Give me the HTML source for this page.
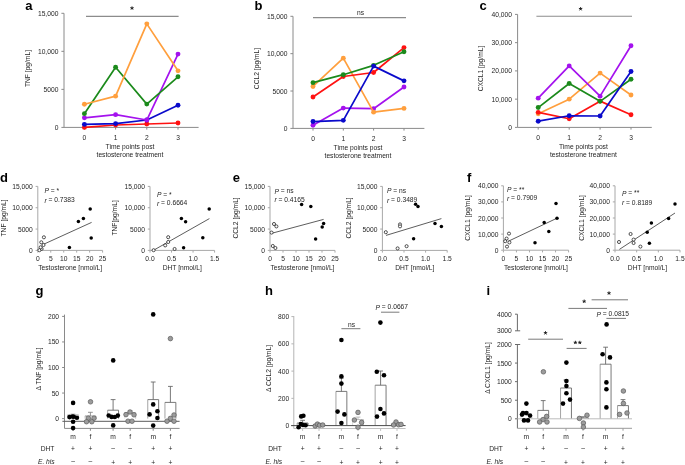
<!DOCTYPE html>
<html><head><meta charset="utf-8"><style>
html,body{margin:0;padding:0;background:#fff;}
body{width:685px;height:465px;overflow:hidden;}
svg{display:block;font-family:"Liberation Sans",sans-serif;will-change:transform;}
</style></head><body>
<svg width="685" height="465" viewBox="0 0 685 465">
<rect width="685" height="465" fill="#fff"/>
<text x="25.20" y="10.30" font-size="13" font-weight="bold" fill="#000">a</text>
<line x1="64.00" y1="13.30" x2="64.00" y2="127.40" stroke="#8a8a8a" stroke-width="1"/>
<line x1="64.00" y1="127.40" x2="198.60" y2="127.40" stroke="#8a8a8a" stroke-width="1"/>
<line x1="61.40" y1="127.40" x2="64.00" y2="127.40" stroke="#8a8a8a" stroke-width="1"/>
<text x="58.40" y="127.40" text-anchor="end" font-size="6.7" fill="#1e1e1e" dominant-baseline="central">0</text>
<line x1="61.40" y1="89.37" x2="64.00" y2="89.37" stroke="#8a8a8a" stroke-width="1"/>
<text x="58.40" y="89.37" text-anchor="end" font-size="6.7" fill="#1e1e1e" dominant-baseline="central">5000</text>
<line x1="61.40" y1="51.33" x2="64.00" y2="51.33" stroke="#8a8a8a" stroke-width="1"/>
<text x="58.40" y="51.33" text-anchor="end" font-size="6.7" fill="#1e1e1e" dominant-baseline="central">10,000</text>
<line x1="61.40" y1="13.30" x2="64.00" y2="13.30" stroke="#8a8a8a" stroke-width="1"/>
<text x="58.40" y="13.30" text-anchor="end" font-size="6.7" fill="#1e1e1e" dominant-baseline="central">15,000</text>
<line x1="84.40" y1="127.40" x2="84.40" y2="129.60" stroke="#8a8a8a" stroke-width="1"/>
<text x="84.40" y="137.70" text-anchor="middle" font-size="6.7" fill="#1e1e1e" dominant-baseline="central">0</text>
<line x1="115.60" y1="127.40" x2="115.60" y2="129.60" stroke="#8a8a8a" stroke-width="1"/>
<text x="115.60" y="137.70" text-anchor="middle" font-size="6.7" fill="#1e1e1e" dominant-baseline="central">1</text>
<line x1="146.80" y1="127.40" x2="146.80" y2="129.60" stroke="#8a8a8a" stroke-width="1"/>
<text x="146.80" y="137.70" text-anchor="middle" font-size="6.7" fill="#1e1e1e" dominant-baseline="central">2</text>
<line x1="178.00" y1="127.40" x2="178.00" y2="129.60" stroke="#8a8a8a" stroke-width="1"/>
<text x="178.00" y="137.70" text-anchor="middle" font-size="6.7" fill="#1e1e1e" dominant-baseline="central">3</text>
<text x="130.00" y="146.40" text-anchor="middle" font-size="6.7" fill="#1e1e1e" dominant-baseline="central">Time points post</text>
<text x="130.00" y="154.40" text-anchor="middle" font-size="6.7" fill="#1e1e1e" dominant-baseline="central">testosterone treatment</text>
<text x="27.40" y="68.50" text-anchor="middle" font-size="6.7" fill="#1e1e1e" dominant-baseline="central" transform="rotate(-90 27.4 68.5)">TNF [pg/mL]</text>
<line x1="86.00" y1="16.40" x2="178.60" y2="16.40" stroke="#8c8c8c" stroke-width="1.1"/>
<path d="M132.00,8.20L132.00,6.80M132.00,8.20L133.33,7.77M132.00,8.20L132.82,9.33M132.00,8.20L131.18,9.33M132.00,8.20L130.67,7.77" stroke="#222" stroke-width="1.0" stroke-linecap="round" fill="none"/>
<polyline points="84.40,127.40 115.60,125.01 146.80,124.02 178.00,123.02" fill="none" stroke="#ff1212" stroke-width="1.7" stroke-linejoin="round"/>
<circle cx="84.40" cy="127.40" r="2.45" fill="#ff1212"/>
<circle cx="115.60" cy="125.01" r="2.45" fill="#ff1212"/>
<circle cx="146.80" cy="124.02" r="2.45" fill="#ff1212"/>
<circle cx="178.00" cy="123.02" r="2.45" fill="#ff1212"/>
<polyline points="84.40,124.41 115.60,123.62 146.80,120.03 178.00,105.30" fill="none" stroke="#0a0acb" stroke-width="1.7" stroke-linejoin="round"/>
<circle cx="84.40" cy="124.41" r="2.45" fill="#0a0acb"/>
<circle cx="115.60" cy="123.62" r="2.45" fill="#0a0acb"/>
<circle cx="146.80" cy="120.03" r="2.45" fill="#0a0acb"/>
<circle cx="178.00" cy="105.30" r="2.45" fill="#0a0acb"/>
<polyline points="84.40,117.84 115.60,114.66 146.80,120.03 178.00,54.12" fill="none" stroke="#a412ee" stroke-width="1.7" stroke-linejoin="round"/>
<circle cx="84.40" cy="117.84" r="2.45" fill="#a412ee"/>
<circle cx="115.60" cy="114.66" r="2.45" fill="#a412ee"/>
<circle cx="146.80" cy="120.03" r="2.45" fill="#a412ee"/>
<circle cx="178.00" cy="54.12" r="2.45" fill="#a412ee"/>
<polyline points="84.40,113.66 115.60,67.26 146.80,104.10 178.00,76.82" fill="none" stroke="#1b8a1b" stroke-width="1.7" stroke-linejoin="round"/>
<circle cx="84.40" cy="113.66" r="2.45" fill="#1b8a1b"/>
<circle cx="115.60" cy="67.26" r="2.45" fill="#1b8a1b"/>
<circle cx="146.80" cy="104.10" r="2.45" fill="#1b8a1b"/>
<circle cx="178.00" cy="76.82" r="2.45" fill="#1b8a1b"/>
<polyline points="84.40,104.30 115.60,96.14 146.80,23.85 178.00,70.84" fill="none" stroke="#ff9f3d" stroke-width="1.7" stroke-linejoin="round"/>
<circle cx="84.40" cy="104.30" r="2.45" fill="#ff9f3d"/>
<circle cx="115.60" cy="96.14" r="2.45" fill="#ff9f3d"/>
<circle cx="146.80" cy="23.85" r="2.45" fill="#ff9f3d"/>
<circle cx="178.00" cy="70.84" r="2.45" fill="#ff9f3d"/>
<text x="254.60" y="10.00" font-size="13" font-weight="bold" fill="#000">b</text>
<line x1="293.00" y1="16.30" x2="293.00" y2="128.40" stroke="#8a8a8a" stroke-width="1"/>
<line x1="293.00" y1="128.40" x2="424.40" y2="128.40" stroke="#8a8a8a" stroke-width="1"/>
<line x1="290.40" y1="128.40" x2="293.00" y2="128.40" stroke="#8a8a8a" stroke-width="1"/>
<text x="287.40" y="128.40" text-anchor="end" font-size="6.7" fill="#1e1e1e" dominant-baseline="central">0</text>
<line x1="290.40" y1="91.03" x2="293.00" y2="91.03" stroke="#8a8a8a" stroke-width="1"/>
<text x="287.40" y="91.03" text-anchor="end" font-size="6.7" fill="#1e1e1e" dominant-baseline="central">5000</text>
<line x1="290.40" y1="53.67" x2="293.00" y2="53.67" stroke="#8a8a8a" stroke-width="1"/>
<text x="287.40" y="53.67" text-anchor="end" font-size="6.7" fill="#1e1e1e" dominant-baseline="central">10,000</text>
<line x1="290.40" y1="16.30" x2="293.00" y2="16.30" stroke="#8a8a8a" stroke-width="1"/>
<text x="287.40" y="16.30" text-anchor="end" font-size="6.7" fill="#1e1e1e" dominant-baseline="central">15,000</text>
<line x1="313.00" y1="128.40" x2="313.00" y2="130.60" stroke="#8a8a8a" stroke-width="1"/>
<text x="313.00" y="138.70" text-anchor="middle" font-size="6.7" fill="#1e1e1e" dominant-baseline="central">0</text>
<line x1="343.30" y1="128.40" x2="343.30" y2="130.60" stroke="#8a8a8a" stroke-width="1"/>
<text x="343.30" y="138.70" text-anchor="middle" font-size="6.7" fill="#1e1e1e" dominant-baseline="central">1</text>
<line x1="373.60" y1="128.40" x2="373.60" y2="130.60" stroke="#8a8a8a" stroke-width="1"/>
<text x="373.60" y="138.70" text-anchor="middle" font-size="6.7" fill="#1e1e1e" dominant-baseline="central">2</text>
<line x1="404.00" y1="128.40" x2="404.00" y2="130.60" stroke="#8a8a8a" stroke-width="1"/>
<text x="404.00" y="138.70" text-anchor="middle" font-size="6.7" fill="#1e1e1e" dominant-baseline="central">3</text>
<text x="358.00" y="147.40" text-anchor="middle" font-size="6.7" fill="#1e1e1e" dominant-baseline="central">Time points post</text>
<text x="358.00" y="155.40" text-anchor="middle" font-size="6.7" fill="#1e1e1e" dominant-baseline="central">testosterone treatment</text>
<text x="256.90" y="68.50" text-anchor="middle" font-size="6.7" fill="#1e1e1e" dominant-baseline="central" transform="rotate(-90 256.9 68.5)">CCL2 [pg/mL]</text>
<line x1="313.00" y1="17.60" x2="406.00" y2="17.60" stroke="#8c8c8c" stroke-width="1.1"/>
<text x="360.50" y="12.40" text-anchor="middle" font-size="6.7" fill="#1e1e1e" dominant-baseline="central">ns</text>
<polyline points="313.00,125.19 343.30,108.11 373.60,108.72 404.00,87.05" fill="none" stroke="#a412ee" stroke-width="1.7" stroke-linejoin="round"/>
<circle cx="313.00" cy="125.19" r="2.45" fill="#a412ee"/>
<circle cx="343.30" cy="108.11" r="2.45" fill="#a412ee"/>
<circle cx="373.60" cy="108.72" r="2.45" fill="#a412ee"/>
<circle cx="404.00" cy="87.05" r="2.45" fill="#a412ee"/>
<polyline points="313.00,86.45 343.30,58.15 373.60,112.13 404.00,108.42" fill="none" stroke="#ff9f3d" stroke-width="1.7" stroke-linejoin="round"/>
<circle cx="313.00" cy="86.45" r="2.45" fill="#ff9f3d"/>
<circle cx="343.30" cy="58.15" r="2.45" fill="#ff9f3d"/>
<circle cx="373.60" cy="112.13" r="2.45" fill="#ff9f3d"/>
<circle cx="404.00" cy="108.42" r="2.45" fill="#ff9f3d"/>
<polyline points="313.00,97.06 343.30,76.48 373.60,72.50 404.00,47.59" fill="none" stroke="#ff1212" stroke-width="1.7" stroke-linejoin="round"/>
<circle cx="313.00" cy="97.06" r="2.45" fill="#ff1212"/>
<circle cx="343.30" cy="76.48" r="2.45" fill="#ff1212"/>
<circle cx="373.60" cy="72.50" r="2.45" fill="#ff1212"/>
<circle cx="404.00" cy="47.59" r="2.45" fill="#ff1212"/>
<polyline points="313.00,82.66 343.30,74.69 373.60,65.33 404.00,51.78" fill="none" stroke="#1b8a1b" stroke-width="1.7" stroke-linejoin="round"/>
<circle cx="313.00" cy="82.66" r="2.45" fill="#1b8a1b"/>
<circle cx="343.30" cy="74.69" r="2.45" fill="#1b8a1b"/>
<circle cx="373.60" cy="65.33" r="2.45" fill="#1b8a1b"/>
<circle cx="404.00" cy="51.78" r="2.45" fill="#1b8a1b"/>
<polyline points="313.00,121.57 343.30,120.37 373.60,66.12 404.00,80.87" fill="none" stroke="#0a0acb" stroke-width="1.7" stroke-linejoin="round"/>
<circle cx="313.00" cy="121.57" r="2.45" fill="#0a0acb"/>
<circle cx="343.30" cy="120.37" r="2.45" fill="#0a0acb"/>
<circle cx="373.60" cy="66.12" r="2.45" fill="#0a0acb"/>
<circle cx="404.00" cy="80.87" r="2.45" fill="#0a0acb"/>
<text x="479.60" y="10.30" font-size="13" font-weight="bold" fill="#000">c</text>
<line x1="517.60" y1="14.40" x2="517.60" y2="127.40" stroke="#8a8a8a" stroke-width="1"/>
<line x1="517.60" y1="127.40" x2="651.80" y2="127.40" stroke="#8a8a8a" stroke-width="1"/>
<line x1="515.00" y1="127.40" x2="517.60" y2="127.40" stroke="#8a8a8a" stroke-width="1"/>
<text x="512.00" y="127.40" text-anchor="end" font-size="6.7" fill="#1e1e1e" dominant-baseline="central">0</text>
<line x1="515.00" y1="99.15" x2="517.60" y2="99.15" stroke="#8a8a8a" stroke-width="1"/>
<text x="512.00" y="99.15" text-anchor="end" font-size="6.7" fill="#1e1e1e" dominant-baseline="central">10,000</text>
<line x1="515.00" y1="70.90" x2="517.60" y2="70.90" stroke="#8a8a8a" stroke-width="1"/>
<text x="512.00" y="70.90" text-anchor="end" font-size="6.7" fill="#1e1e1e" dominant-baseline="central">20,000</text>
<line x1="515.00" y1="42.65" x2="517.60" y2="42.65" stroke="#8a8a8a" stroke-width="1"/>
<text x="512.00" y="42.65" text-anchor="end" font-size="6.7" fill="#1e1e1e" dominant-baseline="central">30,000</text>
<line x1="515.00" y1="14.40" x2="517.60" y2="14.40" stroke="#8a8a8a" stroke-width="1"/>
<text x="512.00" y="14.40" text-anchor="end" font-size="6.7" fill="#1e1e1e" dominant-baseline="central">40,000</text>
<line x1="538.20" y1="127.40" x2="538.20" y2="129.60" stroke="#8a8a8a" stroke-width="1"/>
<text x="538.20" y="137.70" text-anchor="middle" font-size="6.7" fill="#1e1e1e" dominant-baseline="central">0</text>
<line x1="569.20" y1="127.40" x2="569.20" y2="129.60" stroke="#8a8a8a" stroke-width="1"/>
<text x="569.20" y="137.70" text-anchor="middle" font-size="6.7" fill="#1e1e1e" dominant-baseline="central">1</text>
<line x1="600.10" y1="127.40" x2="600.10" y2="129.60" stroke="#8a8a8a" stroke-width="1"/>
<text x="600.10" y="137.70" text-anchor="middle" font-size="6.7" fill="#1e1e1e" dominant-baseline="central">2</text>
<line x1="631.00" y1="127.40" x2="631.00" y2="129.60" stroke="#8a8a8a" stroke-width="1"/>
<text x="631.00" y="137.70" text-anchor="middle" font-size="6.7" fill="#1e1e1e" dominant-baseline="central">3</text>
<text x="583.40" y="146.40" text-anchor="middle" font-size="6.7" fill="#1e1e1e" dominant-baseline="central">Time points post</text>
<text x="583.40" y="154.40" text-anchor="middle" font-size="6.7" fill="#1e1e1e" dominant-baseline="central">testosterone treatment</text>
<text x="480.90" y="68.50" text-anchor="middle" font-size="6.7" fill="#1e1e1e" dominant-baseline="central" transform="rotate(-90 480.9 68.5)">CXCL1 [pg/mL]</text>
<line x1="536.40" y1="16.20" x2="632.00" y2="16.20" stroke="#8c8c8c" stroke-width="1.1"/>
<path d="M580.60,8.90L580.60,7.50M580.60,8.90L581.93,8.47M580.60,8.90L581.42,10.03M580.60,8.90L579.78,10.03M580.60,8.90L579.27,8.47" stroke="#222" stroke-width="1.0" stroke-linecap="round" fill="none"/>
<polyline points="538.20,113.78 569.20,99.15 600.10,73.10 631.00,94.94" fill="none" stroke="#ff9f3d" stroke-width="1.7" stroke-linejoin="round"/>
<circle cx="538.20" cy="113.78" r="2.45" fill="#ff9f3d"/>
<circle cx="569.20" cy="99.15" r="2.45" fill="#ff9f3d"/>
<circle cx="600.10" cy="73.10" r="2.45" fill="#ff9f3d"/>
<circle cx="631.00" cy="94.94" r="2.45" fill="#ff9f3d"/>
<polyline points="538.20,112.37 569.20,118.78 600.10,101.15 631.00,114.78" fill="none" stroke="#ff1212" stroke-width="1.7" stroke-linejoin="round"/>
<circle cx="538.20" cy="112.37" r="2.45" fill="#ff1212"/>
<circle cx="569.20" cy="118.78" r="2.45" fill="#ff1212"/>
<circle cx="600.10" cy="101.15" r="2.45" fill="#ff1212"/>
<circle cx="631.00" cy="114.78" r="2.45" fill="#ff1212"/>
<polyline points="538.20,107.57 569.20,83.48 600.10,101.35 631.00,79.28" fill="none" stroke="#1b8a1b" stroke-width="1.7" stroke-linejoin="round"/>
<circle cx="538.20" cy="107.57" r="2.45" fill="#1b8a1b"/>
<circle cx="569.20" cy="83.48" r="2.45" fill="#1b8a1b"/>
<circle cx="600.10" cy="101.35" r="2.45" fill="#1b8a1b"/>
<circle cx="631.00" cy="79.28" r="2.45" fill="#1b8a1b"/>
<polyline points="538.20,98.15 569.20,65.91 600.10,96.14 631.00,45.74" fill="none" stroke="#a412ee" stroke-width="1.7" stroke-linejoin="round"/>
<circle cx="538.20" cy="98.15" r="2.45" fill="#a412ee"/>
<circle cx="569.20" cy="65.91" r="2.45" fill="#a412ee"/>
<circle cx="600.10" cy="96.14" r="2.45" fill="#a412ee"/>
<circle cx="631.00" cy="45.74" r="2.45" fill="#a412ee"/>
<polyline points="538.20,121.19 569.20,115.78 600.10,115.98 631.00,71.50" fill="none" stroke="#0a0acb" stroke-width="1.7" stroke-linejoin="round"/>
<circle cx="538.20" cy="121.19" r="2.45" fill="#0a0acb"/>
<circle cx="569.20" cy="115.78" r="2.45" fill="#0a0acb"/>
<circle cx="600.10" cy="115.98" r="2.45" fill="#0a0acb"/>
<circle cx="631.00" cy="71.50" r="2.45" fill="#0a0acb"/>
<text x="0.00" y="182.40" font-size="13" font-weight="bold" fill="#000">d</text>
<line x1="37.80" y1="186.40" x2="37.80" y2="250.40" stroke="#a8a8a8" stroke-width="1"/>
<line x1="37.80" y1="250.40" x2="102.60" y2="250.40" stroke="#a8a8a8" stroke-width="1"/>
<line x1="35.60" y1="250.40" x2="37.80" y2="250.40" stroke="#a8a8a8" stroke-width="1"/>
<text x="32.80" y="250.40" text-anchor="end" font-size="6.7" fill="#1e1e1e" dominant-baseline="central">0</text>
<line x1="35.60" y1="229.07" x2="37.80" y2="229.07" stroke="#a8a8a8" stroke-width="1"/>
<text x="32.80" y="229.07" text-anchor="end" font-size="6.7" fill="#1e1e1e" dominant-baseline="central">5000</text>
<line x1="35.60" y1="207.73" x2="37.80" y2="207.73" stroke="#a8a8a8" stroke-width="1"/>
<text x="32.80" y="207.73" text-anchor="end" font-size="6.7" fill="#1e1e1e" dominant-baseline="central">10,000</text>
<line x1="35.60" y1="186.40" x2="37.80" y2="186.40" stroke="#a8a8a8" stroke-width="1"/>
<text x="32.80" y="186.40" text-anchor="end" font-size="6.7" fill="#1e1e1e" dominant-baseline="central">15,000</text>
<line x1="37.80" y1="250.40" x2="37.80" y2="252.60" stroke="#a8a8a8" stroke-width="1"/>
<text x="37.80" y="258.20" text-anchor="middle" font-size="6.7" fill="#1e1e1e" dominant-baseline="central">0</text>
<line x1="50.76" y1="250.40" x2="50.76" y2="252.60" stroke="#a8a8a8" stroke-width="1"/>
<text x="50.76" y="258.20" text-anchor="middle" font-size="6.7" fill="#1e1e1e" dominant-baseline="central">5</text>
<line x1="63.72" y1="250.40" x2="63.72" y2="252.60" stroke="#a8a8a8" stroke-width="1"/>
<text x="63.72" y="258.20" text-anchor="middle" font-size="6.7" fill="#1e1e1e" dominant-baseline="central">10</text>
<line x1="76.68" y1="250.40" x2="76.68" y2="252.60" stroke="#a8a8a8" stroke-width="1"/>
<text x="76.68" y="258.20" text-anchor="middle" font-size="6.7" fill="#1e1e1e" dominant-baseline="central">15</text>
<line x1="89.64" y1="250.40" x2="89.64" y2="252.60" stroke="#a8a8a8" stroke-width="1"/>
<text x="89.64" y="258.20" text-anchor="middle" font-size="6.7" fill="#1e1e1e" dominant-baseline="central">20</text>
<line x1="102.60" y1="250.40" x2="102.60" y2="252.60" stroke="#a8a8a8" stroke-width="1"/>
<text x="102.60" y="258.20" text-anchor="middle" font-size="6.7" fill="#1e1e1e" dominant-baseline="central">25</text>
<text x="70.20" y="267.40" text-anchor="middle" font-size="6.7" fill="#1e1e1e" dominant-baseline="central">Testosterone [nmol/L]</text>
<text x="3.80" y="217.90" text-anchor="middle" font-size="6.7" fill="#1e1e1e" dominant-baseline="central" transform="rotate(-90 3.8 217.9)">TNF [pg/mL]</text>
<text x="44.40" y="190.00" font-size="6.7" fill="#1e1e1e" dominant-baseline="central"><tspan font-style="italic">P</tspan> = *</text>
<text x="44.40" y="199.60" font-size="6.7" fill="#1e1e1e" dominant-baseline="central"><tspan font-style="italic">r</tspan> = 0.7383</text>
<line x1="42.00" y1="245.00" x2="91.60" y2="222.40" stroke="#333" stroke-width="0.8"/>
<circle cx="43.90" cy="237.30" r="1.55" fill="#fff" stroke="#1a1a1a" stroke-width="0.75"/>
<circle cx="41.30" cy="242.30" r="1.55" fill="#fff" stroke="#1a1a1a" stroke-width="0.75"/>
<circle cx="43.50" cy="245.00" r="1.55" fill="#fff" stroke="#1a1a1a" stroke-width="0.75"/>
<circle cx="41.60" cy="248.90" r="1.55" fill="#fff" stroke="#1a1a1a" stroke-width="0.75"/>
<circle cx="39.40" cy="250.20" r="1.55" fill="#fff" stroke="#1a1a1a" stroke-width="0.75"/>
<circle cx="40.60" cy="247.30" r="1.55" fill="#fff" stroke="#1a1a1a" stroke-width="0.75"/>
<circle cx="90.20" cy="209.00" r="1.75" fill="#000"/>
<circle cx="83.40" cy="218.40" r="1.75" fill="#000"/>
<circle cx="78.40" cy="221.60" r="1.75" fill="#000"/>
<circle cx="91.20" cy="238.00" r="1.75" fill="#000"/>
<circle cx="69.40" cy="247.60" r="1.75" fill="#000"/>
<line x1="150.00" y1="186.40" x2="150.00" y2="250.40" stroke="#a8a8a8" stroke-width="1"/>
<line x1="150.00" y1="250.40" x2="214.60" y2="250.40" stroke="#a8a8a8" stroke-width="1"/>
<line x1="147.80" y1="250.40" x2="150.00" y2="250.40" stroke="#a8a8a8" stroke-width="1"/>
<text x="145.00" y="250.40" text-anchor="end" font-size="6.7" fill="#1e1e1e" dominant-baseline="central">0</text>
<line x1="147.80" y1="229.07" x2="150.00" y2="229.07" stroke="#a8a8a8" stroke-width="1"/>
<text x="145.00" y="229.07" text-anchor="end" font-size="6.7" fill="#1e1e1e" dominant-baseline="central">5000</text>
<line x1="147.80" y1="207.73" x2="150.00" y2="207.73" stroke="#a8a8a8" stroke-width="1"/>
<text x="145.00" y="207.73" text-anchor="end" font-size="6.7" fill="#1e1e1e" dominant-baseline="central">10,000</text>
<line x1="147.80" y1="186.40" x2="150.00" y2="186.40" stroke="#a8a8a8" stroke-width="1"/>
<text x="145.00" y="186.40" text-anchor="end" font-size="6.7" fill="#1e1e1e" dominant-baseline="central">15,000</text>
<line x1="150.00" y1="250.40" x2="150.00" y2="252.60" stroke="#a8a8a8" stroke-width="1"/>
<text x="150.00" y="258.20" text-anchor="middle" font-size="6.7" fill="#1e1e1e" dominant-baseline="central">0.0</text>
<line x1="171.53" y1="250.40" x2="171.53" y2="252.60" stroke="#a8a8a8" stroke-width="1"/>
<text x="171.53" y="258.20" text-anchor="middle" font-size="6.7" fill="#1e1e1e" dominant-baseline="central">0.5</text>
<line x1="193.06" y1="250.40" x2="193.06" y2="252.60" stroke="#a8a8a8" stroke-width="1"/>
<text x="193.06" y="258.20" text-anchor="middle" font-size="6.7" fill="#1e1e1e" dominant-baseline="central">1.0</text>
<line x1="214.59" y1="250.40" x2="214.59" y2="252.60" stroke="#a8a8a8" stroke-width="1"/>
<text x="214.59" y="258.20" text-anchor="middle" font-size="6.7" fill="#1e1e1e" dominant-baseline="central">1.5</text>
<text x="182.30" y="267.40" text-anchor="middle" font-size="6.7" fill="#1e1e1e" dominant-baseline="central">DHT [nmol/L]</text>
<text x="115.00" y="217.90" text-anchor="middle" font-size="6.7" fill="#1e1e1e" dominant-baseline="central" transform="rotate(-90 115.0 217.9)">TNF[pg/mL]</text>
<text x="157.00" y="194.00" font-size="6.7" fill="#1e1e1e" dominant-baseline="central"><tspan font-style="italic">P</tspan> = *</text>
<text x="157.00" y="202.60" font-size="6.7" fill="#1e1e1e" dominant-baseline="central"><tspan font-style="italic">r</tspan> = 0.6664</text>
<line x1="154.00" y1="250.00" x2="209.40" y2="218.60" stroke="#333" stroke-width="0.8"/>
<circle cx="153.60" cy="250.20" r="1.55" fill="#fff" stroke="#1a1a1a" stroke-width="0.75"/>
<circle cx="168.20" cy="237.20" r="1.55" fill="#fff" stroke="#1a1a1a" stroke-width="0.75"/>
<circle cx="168.20" cy="242.00" r="1.55" fill="#fff" stroke="#1a1a1a" stroke-width="0.75"/>
<circle cx="165.20" cy="245.40" r="1.55" fill="#fff" stroke="#1a1a1a" stroke-width="0.75"/>
<circle cx="174.60" cy="249.00" r="1.55" fill="#fff" stroke="#1a1a1a" stroke-width="0.75"/>
<circle cx="209.20" cy="209.00" r="1.75" fill="#000"/>
<circle cx="181.40" cy="218.40" r="1.75" fill="#000"/>
<circle cx="185.60" cy="221.80" r="1.75" fill="#000"/>
<circle cx="202.80" cy="237.80" r="1.75" fill="#000"/>
<circle cx="183.60" cy="247.80" r="1.75" fill="#000"/>
<text x="232.80" y="182.40" font-size="13" font-weight="bold" fill="#000">e</text>
<line x1="270.00" y1="186.40" x2="270.00" y2="250.40" stroke="#a8a8a8" stroke-width="1"/>
<line x1="270.00" y1="250.40" x2="335.00" y2="250.40" stroke="#a8a8a8" stroke-width="1"/>
<line x1="267.80" y1="250.40" x2="270.00" y2="250.40" stroke="#a8a8a8" stroke-width="1"/>
<text x="265.00" y="250.40" text-anchor="end" font-size="6.7" fill="#1e1e1e" dominant-baseline="central">0</text>
<line x1="267.80" y1="229.07" x2="270.00" y2="229.07" stroke="#a8a8a8" stroke-width="1"/>
<text x="265.00" y="229.07" text-anchor="end" font-size="6.7" fill="#1e1e1e" dominant-baseline="central">5000</text>
<line x1="267.80" y1="207.73" x2="270.00" y2="207.73" stroke="#a8a8a8" stroke-width="1"/>
<text x="265.00" y="207.73" text-anchor="end" font-size="6.7" fill="#1e1e1e" dominant-baseline="central">10,000</text>
<line x1="267.80" y1="186.40" x2="270.00" y2="186.40" stroke="#a8a8a8" stroke-width="1"/>
<text x="265.00" y="186.40" text-anchor="end" font-size="6.7" fill="#1e1e1e" dominant-baseline="central">15,000</text>
<line x1="270.00" y1="250.40" x2="270.00" y2="252.60" stroke="#a8a8a8" stroke-width="1"/>
<text x="270.00" y="258.20" text-anchor="middle" font-size="6.7" fill="#1e1e1e" dominant-baseline="central">0</text>
<line x1="283.00" y1="250.40" x2="283.00" y2="252.60" stroke="#a8a8a8" stroke-width="1"/>
<text x="283.00" y="258.20" text-anchor="middle" font-size="6.7" fill="#1e1e1e" dominant-baseline="central">5</text>
<line x1="296.00" y1="250.40" x2="296.00" y2="252.60" stroke="#a8a8a8" stroke-width="1"/>
<text x="296.00" y="258.20" text-anchor="middle" font-size="6.7" fill="#1e1e1e" dominant-baseline="central">10</text>
<line x1="309.00" y1="250.40" x2="309.00" y2="252.60" stroke="#a8a8a8" stroke-width="1"/>
<text x="309.00" y="258.20" text-anchor="middle" font-size="6.7" fill="#1e1e1e" dominant-baseline="central">15</text>
<line x1="322.00" y1="250.40" x2="322.00" y2="252.60" stroke="#a8a8a8" stroke-width="1"/>
<text x="322.00" y="258.20" text-anchor="middle" font-size="6.7" fill="#1e1e1e" dominant-baseline="central">20</text>
<line x1="335.00" y1="250.40" x2="335.00" y2="252.60" stroke="#a8a8a8" stroke-width="1"/>
<text x="335.00" y="258.20" text-anchor="middle" font-size="6.7" fill="#1e1e1e" dominant-baseline="central">25</text>
<text x="302.50" y="267.40" text-anchor="middle" font-size="6.7" fill="#1e1e1e" dominant-baseline="central">Testosterone [nmol/L]</text>
<text x="235.80" y="217.90" text-anchor="middle" font-size="6.7" fill="#1e1e1e" dominant-baseline="central" transform="rotate(-90 235.8 217.9)">CCL2 [pg/mL]</text>
<text x="274.40" y="190.60" font-size="6.7" fill="#1e1e1e" dominant-baseline="central"><tspan font-style="italic">P</tspan> = ns</text>
<text x="274.40" y="199.40" font-size="6.7" fill="#1e1e1e" dominant-baseline="central"><tspan font-style="italic">r</tspan> = 0.4165</text>
<line x1="270.60" y1="233.60" x2="323.60" y2="219.40" stroke="#333" stroke-width="0.8"/>
<circle cx="271.60" cy="232.60" r="1.55" fill="#fff" stroke="#1a1a1a" stroke-width="0.75"/>
<circle cx="274.00" cy="224.00" r="1.55" fill="#fff" stroke="#1a1a1a" stroke-width="0.75"/>
<circle cx="276.40" cy="226.40" r="1.55" fill="#fff" stroke="#1a1a1a" stroke-width="0.75"/>
<circle cx="272.80" cy="246.00" r="1.55" fill="#fff" stroke="#1a1a1a" stroke-width="0.75"/>
<circle cx="275.40" cy="248.00" r="1.55" fill="#fff" stroke="#1a1a1a" stroke-width="0.75"/>
<circle cx="301.60" cy="204.40" r="1.75" fill="#000"/>
<circle cx="310.80" cy="206.60" r="1.75" fill="#000"/>
<circle cx="323.60" cy="223.60" r="1.75" fill="#000"/>
<circle cx="322.20" cy="227.00" r="1.75" fill="#000"/>
<circle cx="315.60" cy="239.00" r="1.75" fill="#000"/>
<line x1="382.40" y1="186.40" x2="382.40" y2="250.40" stroke="#a8a8a8" stroke-width="1"/>
<line x1="382.40" y1="250.40" x2="447.20" y2="250.40" stroke="#a8a8a8" stroke-width="1"/>
<line x1="380.20" y1="250.40" x2="382.40" y2="250.40" stroke="#a8a8a8" stroke-width="1"/>
<text x="377.40" y="250.40" text-anchor="end" font-size="6.7" fill="#1e1e1e" dominant-baseline="central">0</text>
<line x1="380.20" y1="229.07" x2="382.40" y2="229.07" stroke="#a8a8a8" stroke-width="1"/>
<text x="377.40" y="229.07" text-anchor="end" font-size="6.7" fill="#1e1e1e" dominant-baseline="central">5000</text>
<line x1="380.20" y1="207.73" x2="382.40" y2="207.73" stroke="#a8a8a8" stroke-width="1"/>
<text x="377.40" y="207.73" text-anchor="end" font-size="6.7" fill="#1e1e1e" dominant-baseline="central">10,000</text>
<line x1="380.20" y1="186.40" x2="382.40" y2="186.40" stroke="#a8a8a8" stroke-width="1"/>
<text x="377.40" y="186.40" text-anchor="end" font-size="6.7" fill="#1e1e1e" dominant-baseline="central">15,000</text>
<line x1="382.40" y1="250.40" x2="382.40" y2="252.60" stroke="#a8a8a8" stroke-width="1"/>
<text x="382.40" y="258.20" text-anchor="middle" font-size="6.7" fill="#1e1e1e" dominant-baseline="central">0.0</text>
<line x1="404.00" y1="250.40" x2="404.00" y2="252.60" stroke="#a8a8a8" stroke-width="1"/>
<text x="404.00" y="258.20" text-anchor="middle" font-size="6.7" fill="#1e1e1e" dominant-baseline="central">0.5</text>
<line x1="425.60" y1="250.40" x2="425.60" y2="252.60" stroke="#a8a8a8" stroke-width="1"/>
<text x="425.60" y="258.20" text-anchor="middle" font-size="6.7" fill="#1e1e1e" dominant-baseline="central">1.0</text>
<line x1="447.20" y1="250.40" x2="447.20" y2="252.60" stroke="#a8a8a8" stroke-width="1"/>
<text x="447.20" y="258.20" text-anchor="middle" font-size="6.7" fill="#1e1e1e" dominant-baseline="central">1.5</text>
<text x="414.80" y="267.40" text-anchor="middle" font-size="6.7" fill="#1e1e1e" dominant-baseline="central">DHT [nmol/L]</text>
<text x="348.40" y="217.90" text-anchor="middle" font-size="6.7" fill="#1e1e1e" dominant-baseline="central" transform="rotate(-90 348.4 217.9)">CCL2 [pg/mL]</text>
<text x="387.00" y="190.40" font-size="6.7" fill="#1e1e1e" dominant-baseline="central"><tspan font-style="italic">P</tspan> = ns</text>
<text x="387.00" y="199.60" font-size="6.7" fill="#1e1e1e" dominant-baseline="central"><tspan font-style="italic">r</tspan> = 0.3489</text>
<line x1="386.00" y1="235.40" x2="441.40" y2="218.60" stroke="#333" stroke-width="0.8"/>
<circle cx="385.80" cy="232.20" r="1.55" fill="#fff" stroke="#1a1a1a" stroke-width="0.75"/>
<circle cx="400.00" cy="224.40" r="1.55" fill="#fff" stroke="#1a1a1a" stroke-width="0.75"/>
<circle cx="400.00" cy="226.40" r="1.55" fill="#fff" stroke="#1a1a1a" stroke-width="0.75"/>
<circle cx="397.60" cy="248.40" r="1.55" fill="#fff" stroke="#1a1a1a" stroke-width="0.75"/>
<circle cx="406.60" cy="246.20" r="1.55" fill="#fff" stroke="#1a1a1a" stroke-width="0.75"/>
<circle cx="415.60" cy="204.20" r="1.75" fill="#000"/>
<circle cx="418.00" cy="206.60" r="1.75" fill="#000"/>
<circle cx="435.00" cy="223.40" r="1.75" fill="#000"/>
<circle cx="441.40" cy="226.60" r="1.75" fill="#000"/>
<circle cx="413.60" cy="238.80" r="1.75" fill="#000"/>
<text x="467.00" y="182.40" font-size="13" font-weight="bold" fill="#000">f</text>
<line x1="503.40" y1="185.80" x2="503.40" y2="250.20" stroke="#a8a8a8" stroke-width="1"/>
<line x1="503.40" y1="250.20" x2="568.60" y2="250.20" stroke="#a8a8a8" stroke-width="1"/>
<line x1="501.20" y1="250.20" x2="503.40" y2="250.20" stroke="#a8a8a8" stroke-width="1"/>
<text x="498.40" y="250.20" text-anchor="end" font-size="6.7" fill="#1e1e1e" dominant-baseline="central">0</text>
<line x1="501.20" y1="234.10" x2="503.40" y2="234.10" stroke="#a8a8a8" stroke-width="1"/>
<text x="498.40" y="234.10" text-anchor="end" font-size="6.7" fill="#1e1e1e" dominant-baseline="central">10,000</text>
<line x1="501.20" y1="218.00" x2="503.40" y2="218.00" stroke="#a8a8a8" stroke-width="1"/>
<text x="498.40" y="218.00" text-anchor="end" font-size="6.7" fill="#1e1e1e" dominant-baseline="central">20,000</text>
<line x1="501.20" y1="201.90" x2="503.40" y2="201.90" stroke="#a8a8a8" stroke-width="1"/>
<text x="498.40" y="201.90" text-anchor="end" font-size="6.7" fill="#1e1e1e" dominant-baseline="central">30,000</text>
<line x1="501.20" y1="185.80" x2="503.40" y2="185.80" stroke="#a8a8a8" stroke-width="1"/>
<text x="498.40" y="185.80" text-anchor="end" font-size="6.7" fill="#1e1e1e" dominant-baseline="central">40,000</text>
<line x1="503.40" y1="250.20" x2="503.40" y2="252.40" stroke="#a8a8a8" stroke-width="1"/>
<text x="503.40" y="258.00" text-anchor="middle" font-size="6.7" fill="#1e1e1e" dominant-baseline="central">0</text>
<line x1="516.44" y1="250.20" x2="516.44" y2="252.40" stroke="#a8a8a8" stroke-width="1"/>
<text x="516.44" y="258.00" text-anchor="middle" font-size="6.7" fill="#1e1e1e" dominant-baseline="central">5</text>
<line x1="529.48" y1="250.20" x2="529.48" y2="252.40" stroke="#a8a8a8" stroke-width="1"/>
<text x="529.48" y="258.00" text-anchor="middle" font-size="6.7" fill="#1e1e1e" dominant-baseline="central">10</text>
<line x1="542.52" y1="250.20" x2="542.52" y2="252.40" stroke="#a8a8a8" stroke-width="1"/>
<text x="542.52" y="258.00" text-anchor="middle" font-size="6.7" fill="#1e1e1e" dominant-baseline="central">15</text>
<line x1="555.56" y1="250.20" x2="555.56" y2="252.40" stroke="#a8a8a8" stroke-width="1"/>
<text x="555.56" y="258.00" text-anchor="middle" font-size="6.7" fill="#1e1e1e" dominant-baseline="central">20</text>
<line x1="568.60" y1="250.20" x2="568.60" y2="252.40" stroke="#a8a8a8" stroke-width="1"/>
<text x="568.60" y="258.00" text-anchor="middle" font-size="6.7" fill="#1e1e1e" dominant-baseline="central">25</text>
<text x="536.00" y="267.20" text-anchor="middle" font-size="6.7" fill="#1e1e1e" dominant-baseline="central">Testosterone [nmol/L]</text>
<text x="468.00" y="217.90" text-anchor="middle" font-size="6.7" fill="#1e1e1e" dominant-baseline="central" transform="rotate(-90 468.0 217.9)">CXCL1 [pg/mL]</text>
<text x="507.00" y="189.00" font-size="6.7" fill="#1e1e1e" dominant-baseline="central"><tspan font-style="italic">P</tspan> = **</text>
<text x="507.00" y="197.60" font-size="6.7" fill="#1e1e1e" dominant-baseline="central"><tspan font-style="italic">r</tspan> = 0.7909</text>
<line x1="508.00" y1="241.40" x2="557.40" y2="218.00" stroke="#333" stroke-width="0.8"/>
<circle cx="509.00" cy="233.60" r="1.55" fill="#fff" stroke="#1a1a1a" stroke-width="0.75"/>
<circle cx="506.60" cy="238.60" r="1.55" fill="#fff" stroke="#1a1a1a" stroke-width="0.75"/>
<circle cx="505.20" cy="241.20" r="1.55" fill="#fff" stroke="#1a1a1a" stroke-width="0.75"/>
<circle cx="509.40" cy="242.40" r="1.55" fill="#fff" stroke="#1a1a1a" stroke-width="0.75"/>
<circle cx="507.00" cy="246.60" r="1.55" fill="#fff" stroke="#1a1a1a" stroke-width="0.75"/>
<circle cx="556.00" cy="203.60" r="1.75" fill="#000"/>
<circle cx="557.00" cy="218.20" r="1.75" fill="#000"/>
<circle cx="544.20" cy="222.60" r="1.75" fill="#000"/>
<circle cx="548.80" cy="231.60" r="1.75" fill="#000"/>
<circle cx="535.00" cy="242.80" r="1.75" fill="#000"/>
<line x1="615.00" y1="185.80" x2="615.00" y2="250.20" stroke="#a8a8a8" stroke-width="1"/>
<line x1="615.00" y1="250.20" x2="680.00" y2="250.20" stroke="#a8a8a8" stroke-width="1"/>
<line x1="612.80" y1="250.20" x2="615.00" y2="250.20" stroke="#a8a8a8" stroke-width="1"/>
<text x="610.00" y="250.20" text-anchor="end" font-size="6.7" fill="#1e1e1e" dominant-baseline="central">0</text>
<line x1="612.80" y1="234.10" x2="615.00" y2="234.10" stroke="#a8a8a8" stroke-width="1"/>
<text x="610.00" y="234.10" text-anchor="end" font-size="6.7" fill="#1e1e1e" dominant-baseline="central">10,000</text>
<line x1="612.80" y1="218.00" x2="615.00" y2="218.00" stroke="#a8a8a8" stroke-width="1"/>
<text x="610.00" y="218.00" text-anchor="end" font-size="6.7" fill="#1e1e1e" dominant-baseline="central">20,000</text>
<line x1="612.80" y1="201.90" x2="615.00" y2="201.90" stroke="#a8a8a8" stroke-width="1"/>
<text x="610.00" y="201.90" text-anchor="end" font-size="6.7" fill="#1e1e1e" dominant-baseline="central">30,000</text>
<line x1="612.80" y1="185.80" x2="615.00" y2="185.80" stroke="#a8a8a8" stroke-width="1"/>
<text x="610.00" y="185.80" text-anchor="end" font-size="6.7" fill="#1e1e1e" dominant-baseline="central">40,000</text>
<line x1="615.00" y1="250.20" x2="615.00" y2="252.40" stroke="#a8a8a8" stroke-width="1"/>
<text x="615.00" y="258.00" text-anchor="middle" font-size="6.7" fill="#1e1e1e" dominant-baseline="central">0.0</text>
<line x1="636.67" y1="250.20" x2="636.67" y2="252.40" stroke="#a8a8a8" stroke-width="1"/>
<text x="636.67" y="258.00" text-anchor="middle" font-size="6.7" fill="#1e1e1e" dominant-baseline="central">0.5</text>
<line x1="658.34" y1="250.20" x2="658.34" y2="252.40" stroke="#a8a8a8" stroke-width="1"/>
<text x="658.34" y="258.00" text-anchor="middle" font-size="6.7" fill="#1e1e1e" dominant-baseline="central">1.0</text>
<line x1="680.01" y1="250.20" x2="680.01" y2="252.40" stroke="#a8a8a8" stroke-width="1"/>
<text x="680.01" y="258.00" text-anchor="middle" font-size="6.7" fill="#1e1e1e" dominant-baseline="central">1.5</text>
<text x="647.50" y="267.20" text-anchor="middle" font-size="6.7" fill="#1e1e1e" dominant-baseline="central">DHT [nmol/L]</text>
<text x="581.60" y="217.90" text-anchor="middle" font-size="6.7" fill="#1e1e1e" dominant-baseline="central" transform="rotate(-90 581.6 217.9)">CXCL1 [pg/mL]</text>
<text x="622.00" y="192.60" font-size="6.7" fill="#1e1e1e" dominant-baseline="central"><tspan font-style="italic">P</tspan> = **</text>
<text x="622.00" y="202.00" font-size="6.7" fill="#1e1e1e" dominant-baseline="central"><tspan font-style="italic">r</tspan> = 0.8189</text>
<line x1="619.40" y1="249.40" x2="675.00" y2="213.00" stroke="#333" stroke-width="0.8"/>
<circle cx="619.00" cy="242.00" r="1.55" fill="#fff" stroke="#1a1a1a" stroke-width="0.75"/>
<circle cx="630.60" cy="234.00" r="1.55" fill="#fff" stroke="#1a1a1a" stroke-width="0.75"/>
<circle cx="633.60" cy="239.60" r="1.55" fill="#fff" stroke="#1a1a1a" stroke-width="0.75"/>
<circle cx="633.60" cy="243.00" r="1.55" fill="#fff" stroke="#1a1a1a" stroke-width="0.75"/>
<circle cx="640.40" cy="246.60" r="1.55" fill="#fff" stroke="#1a1a1a" stroke-width="0.75"/>
<circle cx="675.00" cy="204.00" r="1.75" fill="#000"/>
<circle cx="668.60" cy="218.60" r="1.75" fill="#000"/>
<circle cx="651.40" cy="223.00" r="1.75" fill="#000"/>
<circle cx="647.20" cy="232.20" r="1.75" fill="#000"/>
<circle cx="649.40" cy="243.20" r="1.75" fill="#000"/>
<text x="35.60" y="294.60" font-size="13" font-weight="bold" fill="#000">g</text>
<line x1="64.50" y1="314.60" x2="64.50" y2="428.40" stroke="#8a8a8a" stroke-width="1"/>
<line x1="64.50" y1="428.40" x2="179.60" y2="428.40" stroke="#8a8a8a" stroke-width="1"/>
<line x1="62.10" y1="418.60" x2="64.50" y2="418.60" stroke="#8a8a8a" stroke-width="1"/>
<text x="59.10" y="418.60" text-anchor="end" font-size="6.7" fill="#1e1e1e" dominant-baseline="central">0</text>
<line x1="62.10" y1="393.05" x2="64.50" y2="393.05" stroke="#8a8a8a" stroke-width="1"/>
<text x="59.10" y="393.05" text-anchor="end" font-size="6.7" fill="#1e1e1e" dominant-baseline="central">50</text>
<line x1="62.10" y1="367.50" x2="64.50" y2="367.50" stroke="#8a8a8a" stroke-width="1"/>
<text x="59.10" y="367.50" text-anchor="end" font-size="6.7" fill="#1e1e1e" dominant-baseline="central">100</text>
<line x1="62.10" y1="341.95" x2="64.50" y2="341.95" stroke="#8a8a8a" stroke-width="1"/>
<text x="59.10" y="341.95" text-anchor="end" font-size="6.7" fill="#1e1e1e" dominant-baseline="central">150</text>
<line x1="62.10" y1="316.40" x2="64.50" y2="316.40" stroke="#8a8a8a" stroke-width="1"/>
<text x="59.10" y="316.40" text-anchor="end" font-size="6.7" fill="#1e1e1e" dominant-baseline="central">200</text>
<line x1="73.00" y1="428.40" x2="73.00" y2="430.80" stroke="#8a8a8a" stroke-width="1"/>
<line x1="90.40" y1="428.40" x2="90.40" y2="430.80" stroke="#8a8a8a" stroke-width="1"/>
<line x1="113.10" y1="428.40" x2="113.10" y2="430.80" stroke="#8a8a8a" stroke-width="1"/>
<line x1="130.20" y1="428.40" x2="130.20" y2="430.80" stroke="#8a8a8a" stroke-width="1"/>
<line x1="153.20" y1="428.40" x2="153.20" y2="430.80" stroke="#8a8a8a" stroke-width="1"/>
<line x1="170.40" y1="428.40" x2="170.40" y2="430.80" stroke="#8a8a8a" stroke-width="1"/>
<text x="73.00" y="436.30" text-anchor="middle" font-size="6.7" fill="#1e1e1e" dominant-baseline="central">m</text>
<text x="73.00" y="448.90" text-anchor="middle" font-size="6.7" fill="#1e1e1e" dominant-baseline="central">+</text>
<text x="73.00" y="460.40" text-anchor="middle" font-size="6.7" fill="#1e1e1e" dominant-baseline="central">–</text>
<text x="90.40" y="436.30" text-anchor="middle" font-size="6.7" fill="#1e1e1e" dominant-baseline="central">f</text>
<text x="90.40" y="448.90" text-anchor="middle" font-size="6.7" fill="#1e1e1e" dominant-baseline="central">+</text>
<text x="90.40" y="460.40" text-anchor="middle" font-size="6.7" fill="#1e1e1e" dominant-baseline="central">–</text>
<text x="113.10" y="436.30" text-anchor="middle" font-size="6.7" fill="#1e1e1e" dominant-baseline="central">m</text>
<text x="113.10" y="447.20" text-anchor="middle" font-size="6.7" fill="#1e1e1e" dominant-baseline="central">–</text>
<text x="113.10" y="462.00" text-anchor="middle" font-size="6.7" fill="#1e1e1e" dominant-baseline="central">+</text>
<text x="130.20" y="436.30" text-anchor="middle" font-size="6.7" fill="#1e1e1e" dominant-baseline="central">f</text>
<text x="130.20" y="447.20" text-anchor="middle" font-size="6.7" fill="#1e1e1e" dominant-baseline="central">–</text>
<text x="130.20" y="462.00" text-anchor="middle" font-size="6.7" fill="#1e1e1e" dominant-baseline="central">+</text>
<text x="153.20" y="436.30" text-anchor="middle" font-size="6.7" fill="#1e1e1e" dominant-baseline="central">m</text>
<text x="153.20" y="448.90" text-anchor="middle" font-size="6.7" fill="#1e1e1e" dominant-baseline="central">+</text>
<text x="153.20" y="462.00" text-anchor="middle" font-size="6.7" fill="#1e1e1e" dominant-baseline="central">+</text>
<text x="170.40" y="436.30" text-anchor="middle" font-size="6.7" fill="#1e1e1e" dominant-baseline="central">f</text>
<text x="170.40" y="448.90" text-anchor="middle" font-size="6.7" fill="#1e1e1e" dominant-baseline="central">+</text>
<text x="170.40" y="462.00" text-anchor="middle" font-size="6.7" fill="#1e1e1e" dominant-baseline="central">+</text>
<text x="47.50" y="448.40" text-anchor="middle" font-size="6.7" fill="#1e1e1e" dominant-baseline="central">DHT</text>
<text x="46.30" y="461.7" text-anchor="middle" font-size="6.7" fill="#1e1e1e" dominant-baseline="central" font-style="italic">E. his</text>
<text x="38.60" y="369.00" text-anchor="middle" font-size="6.7" fill="#1e1e1e" dominant-baseline="central" transform="rotate(-90 38.6 369.0)">Δ TNF [pg/mL]</text>
<rect x="67.55" y="414.70" width="10.90" height="3.90" fill="#fff" stroke="none"/>
<path d="M67.55,418.60V414.70" stroke="#ddd" stroke-width="0.9" fill="none"/>
<path d="M67.55,414.70H78.45V418.60" stroke="#bbb" stroke-width="0.9" fill="none"/>
<line x1="73.00" y1="414.00" x2="73.00" y2="414.70" stroke="#bbb" stroke-width="0.9"/>
<line x1="70.60" y1="414.00" x2="75.40" y2="414.00" stroke="#bbb" stroke-width="0.9"/>
<rect x="84.95" y="416.00" width="10.90" height="2.60" fill="#fff" stroke="none"/>
<path d="M84.95,418.60V416.00" stroke="#ccc" stroke-width="0.9" fill="none"/>
<path d="M84.95,416.00H95.85V418.60" stroke="#888" stroke-width="0.9" fill="none"/>
<line x1="90.40" y1="412.30" x2="90.40" y2="416.00" stroke="#888" stroke-width="0.9"/>
<line x1="88.00" y1="412.30" x2="92.80" y2="412.30" stroke="#888" stroke-width="0.9"/>
<rect x="107.65" y="410.20" width="10.90" height="8.40" fill="#fff" stroke="none"/>
<path d="M107.65,418.60V410.20" stroke="#9a9a9a" stroke-width="0.9" fill="none"/>
<path d="M107.65,410.20H118.55V418.60" stroke="#6a6a6a" stroke-width="0.9" fill="none"/>
<line x1="113.10" y1="399.60" x2="113.10" y2="410.20" stroke="#6a6a6a" stroke-width="0.9"/>
<line x1="110.70" y1="399.60" x2="115.50" y2="399.60" stroke="#6a6a6a" stroke-width="0.9"/>
<rect x="124.75" y="412.50" width="10.90" height="6.10" fill="#fff" stroke="none"/>
<path d="M124.75,418.60V412.50" stroke="#ddd" stroke-width="0.9" fill="none"/>
<path d="M124.75,412.50H135.65V418.60" stroke="#bbb" stroke-width="0.9" fill="none"/>
<line x1="130.20" y1="410.50" x2="130.20" y2="412.50" stroke="#bbb" stroke-width="0.9"/>
<line x1="127.80" y1="410.50" x2="132.60" y2="410.50" stroke="#bbb" stroke-width="0.9"/>
<rect x="147.75" y="399.60" width="10.90" height="19.00" fill="#fff" stroke="none"/>
<path d="M147.75,418.60V399.60" stroke="#9a9a9a" stroke-width="0.9" fill="none"/>
<path d="M147.75,399.60H158.65V418.60" stroke="#6a6a6a" stroke-width="0.9" fill="none"/>
<line x1="153.20" y1="382.00" x2="153.20" y2="399.60" stroke="#6a6a6a" stroke-width="0.9"/>
<line x1="150.80" y1="382.00" x2="155.60" y2="382.00" stroke="#6a6a6a" stroke-width="0.9"/>
<rect x="164.95" y="402.40" width="10.90" height="16.20" fill="#fff" stroke="none"/>
<path d="M164.95,418.60V402.40" stroke="#9a9a9a" stroke-width="0.9" fill="none"/>
<path d="M164.95,402.40H175.85V418.60" stroke="#6a6a6a" stroke-width="0.9" fill="none"/>
<line x1="170.40" y1="386.40" x2="170.40" y2="402.40" stroke="#6a6a6a" stroke-width="0.9"/>
<line x1="168.00" y1="386.40" x2="172.80" y2="386.40" stroke="#6a6a6a" stroke-width="0.9"/>
<line x1="62.40" y1="421.30" x2="179.60" y2="421.30" stroke="#5a5a5a" stroke-width="1.0"/>
<circle cx="90.50" cy="401.80" r="2.3" fill="#9c9c9c" stroke="#5a5a5a" stroke-width="0.7"/>
<circle cx="88.30" cy="418.20" r="2.3" fill="#9c9c9c" stroke="#5a5a5a" stroke-width="0.7"/>
<circle cx="94.00" cy="418.20" r="2.3" fill="#9c9c9c" stroke="#5a5a5a" stroke-width="0.7"/>
<circle cx="86.50" cy="421.70" r="2.3" fill="#9c9c9c" stroke="#5a5a5a" stroke-width="0.7"/>
<circle cx="91.80" cy="421.70" r="2.3" fill="#9c9c9c" stroke="#5a5a5a" stroke-width="0.7"/>
<circle cx="130.00" cy="412.00" r="2.3" fill="#9c9c9c" stroke="#5a5a5a" stroke-width="0.7"/>
<circle cx="126.00" cy="414.60" r="2.3" fill="#9c9c9c" stroke="#5a5a5a" stroke-width="0.7"/>
<circle cx="134.00" cy="414.80" r="2.3" fill="#9c9c9c" stroke="#5a5a5a" stroke-width="0.7"/>
<circle cx="128.00" cy="421.20" r="2.3" fill="#9c9c9c" stroke="#5a5a5a" stroke-width="0.7"/>
<circle cx="132.00" cy="421.20" r="2.3" fill="#9c9c9c" stroke="#5a5a5a" stroke-width="0.7"/>
<circle cx="170.40" cy="338.60" r="2.3" fill="#9c9c9c" stroke="#5a5a5a" stroke-width="0.7"/>
<circle cx="174.00" cy="415.00" r="2.3" fill="#9c9c9c" stroke="#5a5a5a" stroke-width="0.7"/>
<circle cx="170.40" cy="418.40" r="2.3" fill="#9c9c9c" stroke="#5a5a5a" stroke-width="0.7"/>
<circle cx="167.00" cy="421.20" r="2.3" fill="#9c9c9c" stroke="#5a5a5a" stroke-width="0.7"/>
<circle cx="174.00" cy="421.20" r="2.3" fill="#9c9c9c" stroke="#5a5a5a" stroke-width="0.7"/>
<circle cx="73.10" cy="402.90" r="2.3" fill="#000"/>
<circle cx="69.50" cy="417.10" r="2.3" fill="#000"/>
<circle cx="72.50" cy="416.50" r="2.3" fill="#000"/>
<circle cx="73.80" cy="416.70" r="2.3" fill="#000"/>
<circle cx="76.90" cy="417.80" r="2.3" fill="#000"/>
<circle cx="73.10" cy="421.70" r="2.3" fill="#000"/>
<circle cx="73.10" cy="428.10" r="2.3" fill="#000"/>
<circle cx="113.20" cy="360.40" r="2.3" fill="#000"/>
<circle cx="108.70" cy="415.50" r="2.3" fill="#000"/>
<circle cx="111.60" cy="416.90" r="2.3" fill="#000"/>
<circle cx="114.80" cy="417.00" r="2.3" fill="#000"/>
<circle cx="117.80" cy="415.60" r="2.3" fill="#000"/>
<circle cx="113.20" cy="425.40" r="2.3" fill="#000"/>
<circle cx="153.20" cy="314.40" r="2.3" fill="#000"/>
<circle cx="153.20" cy="404.40" r="2.3" fill="#000"/>
<circle cx="157.40" cy="411.20" r="2.3" fill="#000"/>
<circle cx="149.60" cy="414.40" r="2.3" fill="#000"/>
<circle cx="157.40" cy="418.00" r="2.3" fill="#000"/>
<circle cx="153.20" cy="425.60" r="2.3" fill="#000"/>
<text x="265.00" y="295.00" font-size="13" font-weight="bold" fill="#000">h</text>
<line x1="293.80" y1="316.00" x2="293.80" y2="428.50" stroke="#b4b4b4" stroke-width="1"/>
<line x1="293.80" y1="428.50" x2="405.60" y2="428.50" stroke="#c0c0c0" stroke-width="1"/>
<line x1="291.40" y1="425.60" x2="293.80" y2="425.60" stroke="#b4b4b4" stroke-width="1"/>
<text x="289.20" y="425.60" text-anchor="end" font-size="6.7" fill="#1e1e1e" dominant-baseline="central">0</text>
<line x1="291.40" y1="398.35" x2="293.80" y2="398.35" stroke="#b4b4b4" stroke-width="1"/>
<text x="289.20" y="398.35" text-anchor="end" font-size="6.7" fill="#1e1e1e" dominant-baseline="central">200</text>
<line x1="291.40" y1="371.10" x2="293.80" y2="371.10" stroke="#b4b4b4" stroke-width="1"/>
<text x="289.20" y="371.10" text-anchor="end" font-size="6.7" fill="#1e1e1e" dominant-baseline="central">400</text>
<line x1="291.40" y1="343.85" x2="293.80" y2="343.85" stroke="#b4b4b4" stroke-width="1"/>
<text x="289.20" y="343.85" text-anchor="end" font-size="6.7" fill="#1e1e1e" dominant-baseline="central">600</text>
<line x1="291.40" y1="316.60" x2="293.80" y2="316.60" stroke="#b4b4b4" stroke-width="1"/>
<text x="289.20" y="316.60" text-anchor="end" font-size="6.7" fill="#1e1e1e" dominant-baseline="central">800</text>
<line x1="302.60" y1="428.50" x2="302.60" y2="430.90" stroke="#c0c0c0" stroke-width="1"/>
<line x1="319.00" y1="428.50" x2="319.00" y2="430.90" stroke="#c0c0c0" stroke-width="1"/>
<line x1="341.40" y1="428.50" x2="341.40" y2="430.90" stroke="#c0c0c0" stroke-width="1"/>
<line x1="358.00" y1="428.50" x2="358.00" y2="430.90" stroke="#c0c0c0" stroke-width="1"/>
<line x1="380.60" y1="428.50" x2="380.60" y2="430.90" stroke="#c0c0c0" stroke-width="1"/>
<line x1="397.00" y1="428.50" x2="397.00" y2="430.90" stroke="#c0c0c0" stroke-width="1"/>
<text x="302.60" y="436.30" text-anchor="middle" font-size="6.7" fill="#1e1e1e" dominant-baseline="central">m</text>
<text x="302.60" y="448.90" text-anchor="middle" font-size="6.7" fill="#1e1e1e" dominant-baseline="central">+</text>
<text x="302.60" y="460.40" text-anchor="middle" font-size="6.7" fill="#1e1e1e" dominant-baseline="central">–</text>
<text x="319.00" y="436.30" text-anchor="middle" font-size="6.7" fill="#1e1e1e" dominant-baseline="central">f</text>
<text x="319.00" y="448.90" text-anchor="middle" font-size="6.7" fill="#1e1e1e" dominant-baseline="central">+</text>
<text x="319.00" y="460.40" text-anchor="middle" font-size="6.7" fill="#1e1e1e" dominant-baseline="central">–</text>
<text x="341.40" y="436.30" text-anchor="middle" font-size="6.7" fill="#1e1e1e" dominant-baseline="central">m</text>
<text x="341.40" y="447.20" text-anchor="middle" font-size="6.7" fill="#1e1e1e" dominant-baseline="central">–</text>
<text x="341.40" y="462.00" text-anchor="middle" font-size="6.7" fill="#1e1e1e" dominant-baseline="central">+</text>
<text x="358.00" y="436.30" text-anchor="middle" font-size="6.7" fill="#1e1e1e" dominant-baseline="central">f</text>
<text x="358.00" y="447.20" text-anchor="middle" font-size="6.7" fill="#1e1e1e" dominant-baseline="central">–</text>
<text x="358.00" y="462.00" text-anchor="middle" font-size="6.7" fill="#1e1e1e" dominant-baseline="central">+</text>
<text x="380.60" y="436.30" text-anchor="middle" font-size="6.7" fill="#1e1e1e" dominant-baseline="central">m</text>
<text x="380.60" y="448.90" text-anchor="middle" font-size="6.7" fill="#1e1e1e" dominant-baseline="central">+</text>
<text x="380.60" y="462.00" text-anchor="middle" font-size="6.7" fill="#1e1e1e" dominant-baseline="central">+</text>
<text x="397.00" y="436.30" text-anchor="middle" font-size="6.7" fill="#1e1e1e" dominant-baseline="central">f</text>
<text x="397.00" y="448.90" text-anchor="middle" font-size="6.7" fill="#1e1e1e" dominant-baseline="central">+</text>
<text x="397.00" y="462.00" text-anchor="middle" font-size="6.7" fill="#1e1e1e" dominant-baseline="central">+</text>
<text x="275.00" y="448.40" text-anchor="middle" font-size="6.7" fill="#1e1e1e" dominant-baseline="central">DHT</text>
<text x="273.80" y="461.7" text-anchor="middle" font-size="6.7" fill="#1e1e1e" dominant-baseline="central" font-style="italic">E. his</text>
<text x="269.00" y="368.40" text-anchor="middle" font-size="6.7" fill="#1e1e1e" dominant-baseline="central" transform="rotate(-90 269.0 368.4)">Δ CCL2 [pg/mL]</text>
<rect x="297.15" y="423.00" width="10.90" height="2.60" fill="#fff" stroke="none"/>
<path d="M297.15,425.60V423.00" stroke="#9a9a9a" stroke-width="0.9" fill="none"/>
<path d="M297.15,423.00H308.05V425.60" stroke="#6a6a6a" stroke-width="0.9" fill="none"/>
<line x1="302.60" y1="420.30" x2="302.60" y2="423.00" stroke="#6a6a6a" stroke-width="0.9"/>
<line x1="300.20" y1="420.30" x2="305.00" y2="420.30" stroke="#6a6a6a" stroke-width="0.9"/>
<rect x="313.55" y="424.50" width="10.90" height="1.10" fill="#fff" stroke="none"/>
<path d="M313.55,425.60V424.50" stroke="#9a9a9a" stroke-width="0.9" fill="none"/>
<path d="M313.55,424.50H324.45V425.60" stroke="#6a6a6a" stroke-width="0.9" fill="none"/>
<line x1="319.00" y1="423.50" x2="319.00" y2="424.50" stroke="#6a6a6a" stroke-width="0.9"/>
<line x1="316.60" y1="423.50" x2="321.40" y2="423.50" stroke="#6a6a6a" stroke-width="0.9"/>
<rect x="335.95" y="391.40" width="10.90" height="34.20" fill="#fff" stroke="none"/>
<path d="M335.95,425.60V391.40" stroke="#9a9a9a" stroke-width="0.9" fill="none"/>
<path d="M335.95,391.40H346.85V425.60" stroke="#6a6a6a" stroke-width="0.9" fill="none"/>
<line x1="341.40" y1="378.00" x2="341.40" y2="391.40" stroke="#6a6a6a" stroke-width="0.9"/>
<line x1="339.00" y1="378.00" x2="343.80" y2="378.00" stroke="#6a6a6a" stroke-width="0.9"/>
<rect x="352.55" y="419.50" width="10.90" height="6.10" fill="#fff" stroke="none"/>
<path d="M352.55,425.60V419.50" stroke="#d8d8d8" stroke-width="0.9" fill="none"/>
<path d="M352.55,419.50H363.45V425.60" stroke="#b8b8b8" stroke-width="0.9" fill="none"/>
<line x1="358.00" y1="417.10" x2="358.00" y2="419.50" stroke="#b8b8b8" stroke-width="0.9"/>
<line x1="355.60" y1="417.10" x2="360.40" y2="417.10" stroke="#b8b8b8" stroke-width="0.9"/>
<rect x="375.15" y="385.20" width="10.90" height="40.40" fill="#fff" stroke="none"/>
<path d="M375.15,425.60V385.20" stroke="#9a9a9a" stroke-width="0.9" fill="none"/>
<path d="M375.15,385.20H386.05V425.60" stroke="#6a6a6a" stroke-width="0.9" fill="none"/>
<line x1="380.60" y1="371.00" x2="380.60" y2="385.20" stroke="#6a6a6a" stroke-width="0.9"/>
<line x1="378.20" y1="371.00" x2="383.00" y2="371.00" stroke="#6a6a6a" stroke-width="0.9"/>
<rect x="391.55" y="424.00" width="10.90" height="1.60" fill="#fff" stroke="none"/>
<path d="M391.55,425.60V424.00" stroke="#9a9a9a" stroke-width="0.9" fill="none"/>
<path d="M391.55,424.00H402.45V425.60" stroke="#6a6a6a" stroke-width="0.9" fill="none"/>
<line x1="397.00" y1="423.00" x2="397.00" y2="424.00" stroke="#6a6a6a" stroke-width="0.9"/>
<line x1="394.60" y1="423.00" x2="399.40" y2="423.00" stroke="#6a6a6a" stroke-width="0.9"/>
<line x1="291.10" y1="425.60" x2="405.60" y2="425.60" stroke="#4a4a4a" stroke-width="1.0"/>
<circle cx="315.20" cy="426.00" r="2.3" fill="#9c9c9c" stroke="#5a5a5a" stroke-width="0.7"/>
<circle cx="317.40" cy="424.10" r="2.3" fill="#9c9c9c" stroke="#5a5a5a" stroke-width="0.7"/>
<circle cx="319.60" cy="425.30" r="2.3" fill="#9c9c9c" stroke="#5a5a5a" stroke-width="0.7"/>
<circle cx="322.70" cy="425.00" r="2.3" fill="#9c9c9c" stroke="#5a5a5a" stroke-width="0.7"/>
<circle cx="358.00" cy="412.40" r="2.3" fill="#9c9c9c" stroke="#5a5a5a" stroke-width="0.7"/>
<circle cx="354.40" cy="420.00" r="2.3" fill="#9c9c9c" stroke="#5a5a5a" stroke-width="0.7"/>
<circle cx="361.60" cy="422.40" r="2.3" fill="#9c9c9c" stroke="#5a5a5a" stroke-width="0.7"/>
<circle cx="358.00" cy="427.20" r="2.3" fill="#9c9c9c" stroke="#5a5a5a" stroke-width="0.7"/>
<circle cx="396.00" cy="422.00" r="2.3" fill="#9c9c9c" stroke="#5a5a5a" stroke-width="0.7"/>
<circle cx="393.60" cy="425.00" r="2.3" fill="#9c9c9c" stroke="#5a5a5a" stroke-width="0.7"/>
<circle cx="398.60" cy="424.80" r="2.3" fill="#9c9c9c" stroke="#5a5a5a" stroke-width="0.7"/>
<circle cx="401.00" cy="424.40" r="2.3" fill="#9c9c9c" stroke="#5a5a5a" stroke-width="0.7"/>
<circle cx="301.20" cy="416.40" r="2.3" fill="#000"/>
<circle cx="303.40" cy="415.70" r="2.3" fill="#000"/>
<circle cx="300.80" cy="424.10" r="2.3" fill="#000"/>
<circle cx="303.00" cy="425.00" r="2.3" fill="#000"/>
<circle cx="305.60" cy="425.30" r="2.3" fill="#000"/>
<circle cx="298.60" cy="427.30" r="2.3" fill="#000"/>
<circle cx="341.40" cy="340.00" r="2.3" fill="#000"/>
<circle cx="341.40" cy="376.40" r="2.3" fill="#000"/>
<circle cx="341.40" cy="383.60" r="2.3" fill="#000"/>
<circle cx="337.60" cy="411.60" r="2.3" fill="#000"/>
<circle cx="344.40" cy="414.40" r="2.3" fill="#000"/>
<circle cx="341.40" cy="423.00" r="2.3" fill="#000"/>
<circle cx="380.40" cy="322.60" r="2.3" fill="#000"/>
<circle cx="376.80" cy="371.80" r="2.3" fill="#000"/>
<circle cx="384.00" cy="375.20" r="2.3" fill="#000"/>
<circle cx="380.40" cy="409.00" r="2.3" fill="#000"/>
<circle cx="384.00" cy="413.40" r="2.3" fill="#000"/>
<circle cx="377.00" cy="416.60" r="2.3" fill="#000"/>
<line x1="341.40" y1="328.70" x2="360.40" y2="328.70" stroke="#7a7a7a" stroke-width="1.0"/>
<text x="351.50" y="324.30" text-anchor="middle" font-size="6.7" fill="#1e1e1e" dominant-baseline="central">ns</text>
<line x1="381.00" y1="312.20" x2="399.40" y2="312.20" stroke="#7a7a7a" stroke-width="1.0"/>
<text x="391.8" y="306.6" text-anchor="middle" font-size="6.7" fill="#1e1e1e" dominant-baseline="central"><tspan font-style="italic">P</tspan> = 0.0667</text>
<text x="486.40" y="295.00" font-size="13" font-weight="bold" fill="#000">i</text>
<line x1="517.40" y1="344.40" x2="517.40" y2="428.30" stroke="#6a6a6a" stroke-width="1"/>
<line x1="517.40" y1="428.30" x2="632.00" y2="428.30" stroke="#9a9a9a" stroke-width="1"/>
<line x1="515.00" y1="418.80" x2="517.40" y2="418.80" stroke="#6a6a6a" stroke-width="1"/>
<text x="511.80" y="418.80" text-anchor="end" font-size="6.7" fill="#1e1e1e" dominant-baseline="central">0</text>
<line x1="515.00" y1="400.23" x2="517.40" y2="400.23" stroke="#6a6a6a" stroke-width="1"/>
<text x="511.80" y="400.23" text-anchor="end" font-size="6.7" fill="#1e1e1e" dominant-baseline="central">500</text>
<line x1="515.00" y1="381.65" x2="517.40" y2="381.65" stroke="#6a6a6a" stroke-width="1"/>
<text x="511.80" y="381.65" text-anchor="end" font-size="6.7" fill="#1e1e1e" dominant-baseline="central">1000</text>
<line x1="515.00" y1="363.07" x2="517.40" y2="363.07" stroke="#6a6a6a" stroke-width="1"/>
<text x="511.80" y="363.07" text-anchor="end" font-size="6.7" fill="#1e1e1e" dominant-baseline="central">1500</text>
<line x1="515.00" y1="344.50" x2="520.20" y2="344.50" stroke="#6a6a6a" stroke-width="1"/>
<text x="511.80" y="344.50" text-anchor="end" font-size="6.7" fill="#1e1e1e" dominant-baseline="central">2000</text>
<line x1="515.00" y1="314.20" x2="517.40" y2="314.20" stroke="#6a6a6a" stroke-width="1"/>
<text x="511.80" y="314.20" text-anchor="end" font-size="6.7" fill="#1e1e1e" dominant-baseline="central">4000</text>
<line x1="515.00" y1="330.80" x2="520.20" y2="330.80" stroke="#6a6a6a" stroke-width="1"/>
<text x="511.80" y="330.80" text-anchor="end" font-size="6.7" fill="#1e1e1e" dominant-baseline="central">3000</text>
<line x1="526.40" y1="428.30" x2="526.40" y2="430.70" stroke="#9a9a9a" stroke-width="1"/>
<line x1="543.20" y1="428.30" x2="543.20" y2="430.70" stroke="#9a9a9a" stroke-width="1"/>
<line x1="566.00" y1="428.30" x2="566.00" y2="430.70" stroke="#9a9a9a" stroke-width="1"/>
<line x1="583.00" y1="428.30" x2="583.00" y2="430.70" stroke="#9a9a9a" stroke-width="1"/>
<line x1="605.60" y1="428.30" x2="605.60" y2="430.70" stroke="#9a9a9a" stroke-width="1"/>
<line x1="623.00" y1="428.30" x2="623.00" y2="430.70" stroke="#9a9a9a" stroke-width="1"/>
<text x="526.40" y="436.30" text-anchor="middle" font-size="6.7" fill="#1e1e1e" dominant-baseline="central">m</text>
<text x="526.40" y="448.90" text-anchor="middle" font-size="6.7" fill="#1e1e1e" dominant-baseline="central">+</text>
<text x="526.40" y="460.40" text-anchor="middle" font-size="6.7" fill="#1e1e1e" dominant-baseline="central">–</text>
<text x="543.20" y="436.30" text-anchor="middle" font-size="6.7" fill="#1e1e1e" dominant-baseline="central">f</text>
<text x="543.20" y="448.90" text-anchor="middle" font-size="6.7" fill="#1e1e1e" dominant-baseline="central">+</text>
<text x="543.20" y="460.40" text-anchor="middle" font-size="6.7" fill="#1e1e1e" dominant-baseline="central">–</text>
<text x="566.00" y="436.30" text-anchor="middle" font-size="6.7" fill="#1e1e1e" dominant-baseline="central">m</text>
<text x="566.00" y="447.20" text-anchor="middle" font-size="6.7" fill="#1e1e1e" dominant-baseline="central">–</text>
<text x="566.00" y="462.00" text-anchor="middle" font-size="6.7" fill="#1e1e1e" dominant-baseline="central">+</text>
<text x="583.00" y="436.30" text-anchor="middle" font-size="6.7" fill="#1e1e1e" dominant-baseline="central">f</text>
<text x="583.00" y="447.20" text-anchor="middle" font-size="6.7" fill="#1e1e1e" dominant-baseline="central">–</text>
<text x="583.00" y="462.00" text-anchor="middle" font-size="6.7" fill="#1e1e1e" dominant-baseline="central">+</text>
<text x="605.60" y="436.30" text-anchor="middle" font-size="6.7" fill="#1e1e1e" dominant-baseline="central">m</text>
<text x="605.60" y="448.90" text-anchor="middle" font-size="6.7" fill="#1e1e1e" dominant-baseline="central">+</text>
<text x="605.60" y="462.00" text-anchor="middle" font-size="6.7" fill="#1e1e1e" dominant-baseline="central">+</text>
<text x="623.00" y="436.30" text-anchor="middle" font-size="6.7" fill="#1e1e1e" dominant-baseline="central">f</text>
<text x="623.00" y="448.90" text-anchor="middle" font-size="6.7" fill="#1e1e1e" dominant-baseline="central">+</text>
<text x="623.00" y="462.00" text-anchor="middle" font-size="6.7" fill="#1e1e1e" dominant-baseline="central">+</text>
<text x="496.00" y="448.40" text-anchor="middle" font-size="6.7" fill="#1e1e1e" dominant-baseline="central">DHT</text>
<text x="494.80" y="461.7" text-anchor="middle" font-size="6.7" fill="#1e1e1e" dominant-baseline="central" font-style="italic">E. his</text>
<text x="487.90" y="368.00" text-anchor="middle" font-size="6.7" fill="#1e1e1e" dominant-baseline="central" transform="rotate(-90 487.9 368.0)">Δ CXCL1 [pg/mL]</text>
<rect x="520.95" y="415.20" width="10.90" height="3.60" fill="#fff" stroke="none"/>
<path d="M520.95,418.80V415.20" stroke="#ddd" stroke-width="0.9" fill="none"/>
<path d="M520.95,415.20H531.85V418.80" stroke="#bbb" stroke-width="0.9" fill="none"/>
<line x1="526.40" y1="412.00" x2="526.40" y2="415.20" stroke="#bbb" stroke-width="0.9"/>
<line x1="524.00" y1="412.00" x2="528.80" y2="412.00" stroke="#bbb" stroke-width="0.9"/>
<rect x="537.75" y="410.40" width="10.90" height="8.40" fill="#fff" stroke="none"/>
<path d="M537.75,418.80V410.40" stroke="#9a9a9a" stroke-width="0.9" fill="none"/>
<path d="M537.75,410.40H548.65V418.80" stroke="#6a6a6a" stroke-width="0.9" fill="none"/>
<line x1="543.20" y1="400.60" x2="543.20" y2="410.40" stroke="#6a6a6a" stroke-width="0.9"/>
<line x1="540.80" y1="400.60" x2="545.60" y2="400.60" stroke="#6a6a6a" stroke-width="0.9"/>
<rect x="560.55" y="388.00" width="10.90" height="30.80" fill="#fff" stroke="none"/>
<path d="M560.55,418.80V388.00" stroke="#9a9a9a" stroke-width="0.9" fill="none"/>
<path d="M560.55,388.00H571.45V418.80" stroke="#6a6a6a" stroke-width="0.9" fill="none"/>
<line x1="566.00" y1="380.00" x2="566.00" y2="388.00" stroke="#6a6a6a" stroke-width="0.9"/>
<line x1="563.60" y1="380.00" x2="568.40" y2="380.00" stroke="#6a6a6a" stroke-width="0.9"/>
<rect x="577.55" y="418.00" width="10.90" height="0.80" fill="#fff" stroke="none"/>
<path d="M577.55,418.80V418.00" stroke="#9a9a9a" stroke-width="0.9" fill="none"/>
<path d="M577.55,418.00H588.45V418.80" stroke="#6a6a6a" stroke-width="0.9" fill="none"/>
<line x1="583.00" y1="416.80" x2="583.00" y2="418.00" stroke="#6a6a6a" stroke-width="0.9"/>
<line x1="580.60" y1="416.80" x2="585.40" y2="416.80" stroke="#6a6a6a" stroke-width="0.9"/>
<rect x="600.15" y="364.20" width="10.90" height="54.60" fill="#fff" stroke="none"/>
<path d="M600.15,418.80V364.20" stroke="#9a9a9a" stroke-width="0.9" fill="none"/>
<path d="M600.15,364.20H611.05V418.80" stroke="#6a6a6a" stroke-width="0.9" fill="none"/>
<line x1="605.60" y1="347.20" x2="605.60" y2="364.20" stroke="#6a6a6a" stroke-width="0.9"/>
<line x1="603.20" y1="347.20" x2="608.00" y2="347.20" stroke="#6a6a6a" stroke-width="0.9"/>
<rect x="617.55" y="405.60" width="10.90" height="13.20" fill="#fff" stroke="none"/>
<path d="M617.55,418.80V405.60" stroke="#9a9a9a" stroke-width="0.9" fill="none"/>
<path d="M617.55,405.60H628.45V418.80" stroke="#6a6a6a" stroke-width="0.9" fill="none"/>
<line x1="623.00" y1="399.60" x2="623.00" y2="405.60" stroke="#6a6a6a" stroke-width="0.9"/>
<line x1="620.60" y1="399.60" x2="625.40" y2="399.60" stroke="#6a6a6a" stroke-width="0.9"/>
<line x1="517.40" y1="418.80" x2="632.00" y2="418.80" stroke="#bdbdbd" stroke-width="1.0"/>
<circle cx="543.40" cy="371.80" r="2.3" fill="#9c9c9c" stroke="#5a5a5a" stroke-width="0.7"/>
<circle cx="546.60" cy="416.40" r="2.3" fill="#9c9c9c" stroke="#5a5a5a" stroke-width="0.7"/>
<circle cx="543.00" cy="419.60" r="2.3" fill="#9c9c9c" stroke="#5a5a5a" stroke-width="0.7"/>
<circle cx="539.60" cy="422.00" r="2.3" fill="#9c9c9c" stroke="#5a5a5a" stroke-width="0.7"/>
<circle cx="547.00" cy="422.00" r="2.3" fill="#9c9c9c" stroke="#5a5a5a" stroke-width="0.7"/>
<circle cx="579.40" cy="418.40" r="2.3" fill="#9c9c9c" stroke="#5a5a5a" stroke-width="0.7"/>
<circle cx="587.00" cy="415.20" r="2.3" fill="#9c9c9c" stroke="#5a5a5a" stroke-width="0.7"/>
<circle cx="583.40" cy="423.00" r="2.3" fill="#9c9c9c" stroke="#5a5a5a" stroke-width="0.7"/>
<circle cx="583.40" cy="427.00" r="2.3" fill="#9c9c9c" stroke="#5a5a5a" stroke-width="0.7"/>
<circle cx="623.40" cy="391.00" r="2.3" fill="#9c9c9c" stroke="#5a5a5a" stroke-width="0.7"/>
<circle cx="623.40" cy="403.40" r="2.3" fill="#9c9c9c" stroke="#5a5a5a" stroke-width="0.7"/>
<circle cx="619.60" cy="414.40" r="2.3" fill="#9c9c9c" stroke="#5a5a5a" stroke-width="0.7"/>
<circle cx="627.00" cy="413.00" r="2.3" fill="#9c9c9c" stroke="#5a5a5a" stroke-width="0.7"/>
<circle cx="526.40" cy="403.60" r="2.3" fill="#000"/>
<circle cx="523.00" cy="413.00" r="2.3" fill="#000"/>
<circle cx="526.40" cy="413.00" r="2.3" fill="#000"/>
<circle cx="530.00" cy="415.60" r="2.3" fill="#000"/>
<circle cx="522.00" cy="414.60" r="2.3" fill="#000"/>
<circle cx="524.00" cy="420.40" r="2.3" fill="#000"/>
<circle cx="528.00" cy="420.40" r="2.3" fill="#000"/>
<circle cx="566.40" cy="362.60" r="2.3" fill="#000"/>
<circle cx="566.40" cy="381.00" r="2.3" fill="#000"/>
<circle cx="566.40" cy="386.00" r="2.3" fill="#000"/>
<circle cx="566.40" cy="393.20" r="2.3" fill="#000"/>
<circle cx="563.00" cy="403.60" r="2.3" fill="#000"/>
<circle cx="570.00" cy="399.60" r="2.3" fill="#000"/>
<circle cx="606.60" cy="324.40" r="2.3" fill="#000"/>
<circle cx="602.60" cy="354.20" r="2.3" fill="#000"/>
<circle cx="610.00" cy="357.40" r="2.3" fill="#000"/>
<circle cx="606.40" cy="382.40" r="2.3" fill="#000"/>
<circle cx="606.40" cy="389.20" r="2.3" fill="#000"/>
<circle cx="606.40" cy="407.40" r="2.3" fill="#000"/>
<line x1="528.20" y1="339.20" x2="563.00" y2="339.20" stroke="#7a7a7a" stroke-width="1.0"/>
<path d="M545.50,333.00L545.50,331.60M545.50,333.00L546.83,332.57M545.50,333.00L546.32,334.13M545.50,333.00L544.68,334.13M545.50,333.00L544.17,332.57" stroke="#222" stroke-width="1.0" stroke-linecap="round" fill="none"/>
<line x1="566.60" y1="348.40" x2="586.60" y2="348.40" stroke="#7a7a7a" stroke-width="1.0"/>
<path d="M575.40,342.60L575.40,341.20M575.40,342.60L576.73,342.17M575.40,342.60L576.22,343.73M575.40,342.60L574.58,343.73M575.40,342.60L574.07,342.17" stroke="#222" stroke-width="1.0" stroke-linecap="round" fill="none"/>
<path d="M579.80,342.60L579.80,341.20M579.80,342.60L581.13,342.17M579.80,342.60L580.62,343.73M579.80,342.60L578.98,343.73M579.80,342.60L578.47,342.17" stroke="#222" stroke-width="1.0" stroke-linecap="round" fill="none"/>
<line x1="568.40" y1="308.40" x2="607.00" y2="308.40" stroke="#7a7a7a" stroke-width="1.0"/>
<path d="M584.20,301.40L584.20,300.00M584.20,301.40L585.53,300.97M584.20,301.40L585.02,302.53M584.20,301.40L583.38,302.53M584.20,301.40L582.87,300.97" stroke="#222" stroke-width="1.0" stroke-linecap="round" fill="none"/>
<line x1="591.60" y1="299.80" x2="628.00" y2="299.80" stroke="#7a7a7a" stroke-width="1.0"/>
<path d="M609.00,293.20L609.00,291.80M609.00,293.20L610.33,292.77M609.00,293.20L609.82,294.33M609.00,293.20L608.18,294.33M609.00,293.20L607.67,292.77" stroke="#222" stroke-width="1.0" stroke-linecap="round" fill="none"/>
<line x1="606.40" y1="318.40" x2="626.00" y2="318.40" stroke="#7a7a7a" stroke-width="1.0"/>
<text x="612.8" y="313.6" text-anchor="middle" font-size="6.7" fill="#1e1e1e" dominant-baseline="central"><tspan font-style="italic">P</tspan> = 0.0815</text>
<line x1="517.40" y1="314.20" x2="517.40" y2="330.80" stroke="#6a6a6a" stroke-width="1"/>
</svg>
</body></html>
